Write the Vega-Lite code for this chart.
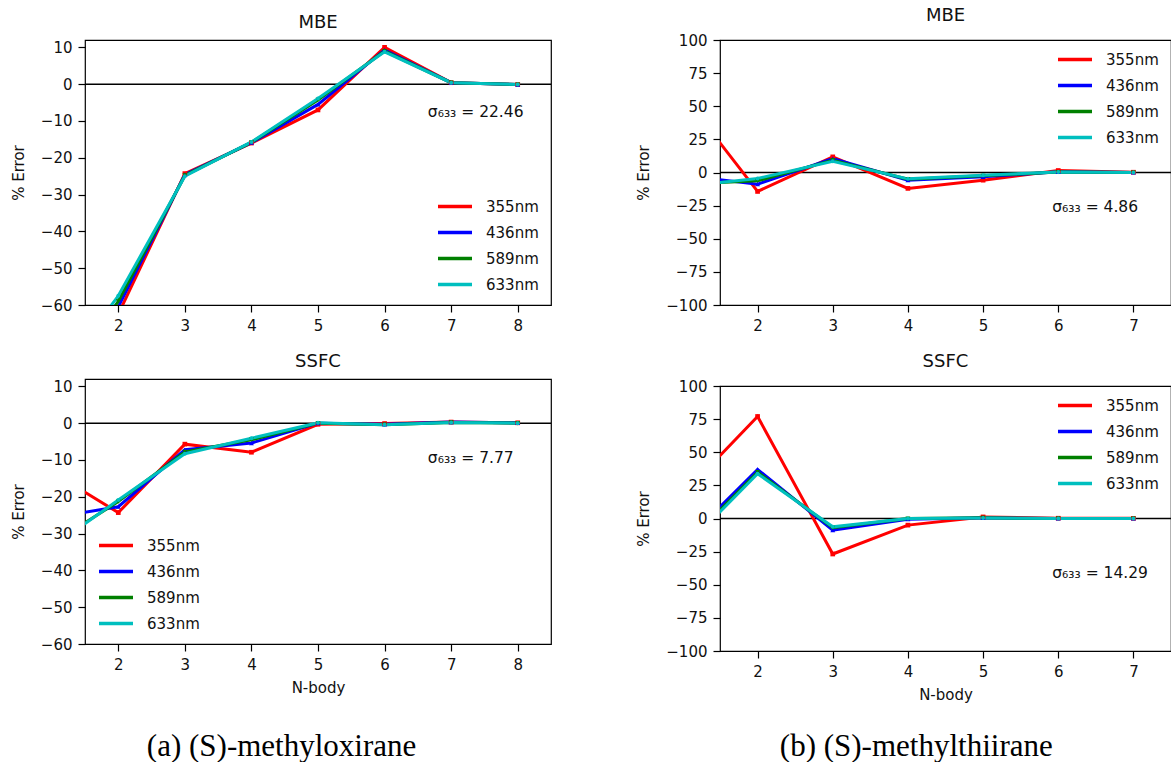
{
  "$schema": "https://vega.github.io/schema/vega-lite/v6.json",
  "padding": {"top": 6, "left": 10, "right": 0, "bottom": 0},
  "background": "white",
  "config": {
    "font": "DejaVu Sans",
    "view": {"stroke": "black", "strokeWidth": 1.2},
    "axis": {"domain": false, "grid": false, "ticks": true, "tickColor": "black", "tickSize": 7, "tickWidth": 1.2, "labelFont": "DejaVu Sans", "labelFontSize": 15, "labelColor": "#111", "labelPadding": 6, "labelOverlap": false, "labelFlush": false, "titleFont": "DejaVu Sans", "titleFontSize": 15, "titleFontWeight": "normal", "titleColor": "#111", "titlePadding": 14},
    "title": {"font": "DejaVu Sans", "fontSize": 18, "fontWeight": "normal", "color": "#111", "offset": 8},
    "legend": {"labelFont": "DejaVu Sans", "labelFontSize": 15, "labelColor": "#111", "symbolType": "stroke", "symbolSize": 1156, "symbolStrokeWidth": 3.5, "labelOffset": 12, "rowPadding": 10, "clipHeight": 15, "padding": 2, "offset": 10}
  },
  "datasets": {
    "oxMBE": [
      {"n": 1, "wl": "355nm", "err": -95}, {"n": 2, "wl": "355nm", "err": -62.5}, {"n": 3, "wl": "355nm", "err": -24.3}, {"n": 4, "wl": "355nm", "err": -16.0}, {"n": 5, "wl": "355nm", "err": -7.0}, {"n": 6, "wl": "355nm", "err": 10.0}, {"n": 7, "wl": "355nm", "err": 0.4}, {"n": 8, "wl": "355nm", "err": -0.1},
      {"n": 1, "wl": "436nm", "err": -90}, {"n": 2, "wl": "436nm", "err": -60.5}, {"n": 3, "wl": "436nm", "err": -24.6}, {"n": 4, "wl": "436nm", "err": -15.9}, {"n": 5, "wl": "436nm", "err": -5.5}, {"n": 6, "wl": "436nm", "err": 9.3}, {"n": 7, "wl": "436nm", "err": 0.4}, {"n": 8, "wl": "436nm", "err": -0.1},
      {"n": 1, "wl": "589nm", "err": -85}, {"n": 2, "wl": "589nm", "err": -59.0}, {"n": 3, "wl": "589nm", "err": -24.8}, {"n": 4, "wl": "589nm", "err": -15.8}, {"n": 5, "wl": "589nm", "err": -4.3}, {"n": 6, "wl": "589nm", "err": 9.0}, {"n": 7, "wl": "589nm", "err": 0.4}, {"n": 8, "wl": "589nm", "err": -0.1},
      {"n": 1, "wl": "633nm", "err": -82}, {"n": 2, "wl": "633nm", "err": -57.5}, {"n": 3, "wl": "633nm", "err": -25.0}, {"n": 4, "wl": "633nm", "err": -15.7}, {"n": 5, "wl": "633nm", "err": -3.9}, {"n": 6, "wl": "633nm", "err": 8.8}, {"n": 7, "wl": "633nm", "err": 0.4}, {"n": 8, "wl": "633nm", "err": -0.1}
    ],
    "oxSSFC": [
      {"n": 1, "wl": "355nm", "err": -13.3}, {"n": 2, "wl": "355nm", "err": -24.3}, {"n": 3, "wl": "355nm", "err": -5.7}, {"n": 4, "wl": "355nm", "err": -7.9}, {"n": 5, "wl": "355nm", "err": -0.3}, {"n": 6, "wl": "355nm", "err": -0.1}, {"n": 7, "wl": "355nm", "err": 0.3}, {"n": 8, "wl": "355nm", "err": 0.1},
      {"n": 1, "wl": "436nm", "err": -25.7}, {"n": 2, "wl": "436nm", "err": -22.7}, {"n": 3, "wl": "436nm", "err": -7.2}, {"n": 4, "wl": "436nm", "err": -5.4}, {"n": 5, "wl": "436nm", "err": 0.0}, {"n": 6, "wl": "436nm", "err": -0.3}, {"n": 7, "wl": "436nm", "err": 0.3}, {"n": 8, "wl": "436nm", "err": 0.1},
      {"n": 1, "wl": "589nm", "err": -32.8}, {"n": 2, "wl": "589nm", "err": -21.3}, {"n": 3, "wl": "589nm", "err": -7.8}, {"n": 4, "wl": "589nm", "err": -4.5}, {"n": 5, "wl": "589nm", "err": 0.0}, {"n": 6, "wl": "589nm", "err": -0.4}, {"n": 7, "wl": "589nm", "err": 0.2}, {"n": 8, "wl": "589nm", "err": 0.0},
      {"n": 1, "wl": "633nm", "err": -33.7}, {"n": 2, "wl": "633nm", "err": -20.9}, {"n": 3, "wl": "633nm", "err": -8.3}, {"n": 4, "wl": "633nm", "err": -4.1}, {"n": 5, "wl": "633nm", "err": 0.1}, {"n": 6, "wl": "633nm", "err": -0.4}, {"n": 7, "wl": "633nm", "err": 0.2}, {"n": 8, "wl": "633nm", "err": 0.0}
    ],
    "thMBE": [
      {"n": 1, "wl": "355nm", "err": 59}, {"n": 2, "wl": "355nm", "err": -14.3}, {"n": 3, "wl": "355nm", "err": 11.8}, {"n": 4, "wl": "355nm", "err": -12.0}, {"n": 5, "wl": "355nm", "err": -5.8}, {"n": 6, "wl": "355nm", "err": 1.5}, {"n": 7, "wl": "355nm", "err": 0.2},
      {"n": 1, "wl": "436nm", "err": -2.2}, {"n": 2, "wl": "436nm", "err": -8.8}, {"n": 3, "wl": "436nm", "err": 10.5}, {"n": 4, "wl": "436nm", "err": -5.8}, {"n": 5, "wl": "436nm", "err": -3.3}, {"n": 6, "wl": "436nm", "err": 0.5}, {"n": 7, "wl": "436nm", "err": 0.0},
      {"n": 1, "wl": "589nm", "err": -8.7}, {"n": 2, "wl": "589nm", "err": -6.3}, {"n": 3, "wl": "589nm", "err": 9.3}, {"n": 4, "wl": "589nm", "err": -5.0}, {"n": 5, "wl": "589nm", "err": -2.5}, {"n": 6, "wl": "589nm", "err": 0.3}, {"n": 7, "wl": "589nm", "err": 0.0},
      {"n": 1, "wl": "633nm", "err": -10.5}, {"n": 2, "wl": "633nm", "err": -4.5}, {"n": 3, "wl": "633nm", "err": 8.5}, {"n": 4, "wl": "633nm", "err": -4.8}, {"n": 5, "wl": "633nm", "err": -2.0}, {"n": 6, "wl": "633nm", "err": 0.3}, {"n": 7, "wl": "633nm", "err": 0.0}
    ],
    "thSSFC": [
      {"n": 1, "wl": "355nm", "err": 18}, {"n": 2, "wl": "355nm", "err": 77}, {"n": 3, "wl": "355nm", "err": -26.8}, {"n": 4, "wl": "355nm", "err": -5.0}, {"n": 5, "wl": "355nm", "err": 1.2}, {"n": 6, "wl": "355nm", "err": 0.2}, {"n": 7, "wl": "355nm", "err": 0.1},
      {"n": 1, "wl": "436nm", "err": -19.5}, {"n": 2, "wl": "436nm", "err": 37}, {"n": 3, "wl": "436nm", "err": -8.8}, {"n": 4, "wl": "436nm", "err": -0.5}, {"n": 5, "wl": "436nm", "err": 0.5}, {"n": 6, "wl": "436nm", "err": 0.0}, {"n": 7, "wl": "436nm", "err": 0.0},
      {"n": 1, "wl": "589nm", "err": -22.5}, {"n": 2, "wl": "589nm", "err": 35}, {"n": 3, "wl": "589nm", "err": -7.0}, {"n": 4, "wl": "589nm", "err": 0.0}, {"n": 5, "wl": "589nm", "err": 0.5}, {"n": 6, "wl": "589nm", "err": 0.0}, {"n": 7, "wl": "589nm", "err": 0.0},
      {"n": 1, "wl": "633nm", "err": -23.8}, {"n": 2, "wl": "633nm", "err": 33.8}, {"n": 3, "wl": "633nm", "err": -6.3}, {"n": 4, "wl": "633nm", "err": 0.0}, {"n": 5, "wl": "633nm", "err": 0.4}, {"n": 6, "wl": "633nm", "err": 0.0}, {"n": 7, "wl": "633nm", "err": 0.0}
    ]
  },
  "spacing": 83,
  "resolve": {"scale": {"color": "independent", "x": "independent", "y": "independent"}, "legend": {"color": "independent"}},
  "hconcat": [
    {
      "title": {"text": "(a) (S)-methyloxirane", "orient": "bottom", "anchor": "middle", "frame": "bounds", "font": "Liberation Serif", "fontSize": 31, "fontWeight": "normal", "color": "black", "offset": 36},
      "spacing": 18,
      "resolve": {"scale": {"color": "independent", "x": "independent", "y": "independent"}, "legend": {"color": "independent"}},
      "vconcat": [
        {
          "width": 466, "height": 265,
          "title": "MBE",
          "data": {"name": "oxMBE"},
          "layer": [
            {"data": {"values": [{}]}, "mark": {"type": "rule", "color": "black", "strokeWidth": 1.5}, "encoding": {"y": {"datum": 0, "type": "quantitative", "title": "% Error", "axis": {"values": [-60, -50, -40, -30, -20, -10, 0, 10], "format": "d"}}}},
            {"mark": {"type": "line", "strokeWidth": 3, "clip": true},
             "encoding": {
               "x": {"field": "n", "type": "quantitative", "title": null, "scale": {"domain": [1.5, 8.5], "nice": false, "zero": false}, "axis": {"values": [2, 3, 4, 5, 6, 7, 8], "format": "d"}},
               "y": {"field": "err", "type": "quantitative", "title": "% Error", "scale": {"domain": [-60, 12], "nice": false, "zero": false}, "axis": {"values": [-60, -50, -40, -30, -20, -10, 0, 10], "format": "d"}},
               "color": {"field": "wl", "type": "nominal", "scale": {"domain": ["355nm", "436nm", "589nm", "633nm"], "range": ["#ff0000", "#0000ff", "#008000", "#00bfbf"]}, "legend": {"title": null, "orient": "bottom-right"}}}},
            {"transform": [{"filter": "datum.wl === '355nm'"}], "mark": {"type": "point", "shape": "square", "filled": true, "size": 22, "clip": true, "opacity": 1, "color": "#ff0000"}, "encoding": {"x": {"field": "n", "type": "quantitative", "title": null, "axis": {"values": [2, 3, 4, 5, 6, 7, 8], "format": "d"}}, "y": {"field": "err", "type": "quantitative", "title": "% Error", "axis": {"values": [-60, -50, -40, -30, -20, -10, 0, 10], "format": "d"}}}},
            {"transform": [{"filter": "datum.wl === '436nm'"}], "mark": {"type": "point", "shape": "triangle-up", "filled": true, "size": 24, "clip": true, "opacity": 1, "color": "#0000ff"}, "encoding": {"x": {"field": "n", "type": "quantitative", "title": null, "axis": {"values": [2, 3, 4, 5, 6, 7, 8], "format": "d"}}, "y": {"field": "err", "type": "quantitative", "title": "% Error", "axis": {"values": [-60, -50, -40, -30, -20, -10, 0, 10], "format": "d"}}}},
            {"transform": [{"filter": "datum.wl === '589nm'"}], "mark": {"type": "point", "shape": "triangle-down", "filled": true, "size": 24, "clip": true, "opacity": 1, "color": "#008000"}, "encoding": {"x": {"field": "n", "type": "quantitative", "title": null, "axis": {"values": [2, 3, 4, 5, 6, 7, 8], "format": "d"}}, "y": {"field": "err", "type": "quantitative", "title": "% Error", "axis": {"values": [-60, -50, -40, -30, -20, -10, 0, 10], "format": "d"}}}},
            {"transform": [{"filter": "datum.wl === '633nm'"}], "mark": {"type": "point", "shape": "circle", "filled": true, "size": 16, "clip": true, "opacity": 1, "color": "#00bfbf"}, "encoding": {"x": {"field": "n", "type": "quantitative", "title": null, "axis": {"values": [2, 3, 4, 5, 6, 7, 8], "format": "d"}}, "y": {"field": "err", "type": "quantitative", "title": "% Error", "axis": {"values": [-60, -50, -40, -30, -20, -10, 0, 10], "format": "d"}}}},
            {"data": {"values": [{}]}, "mark": {"type": "text", "align": "left", "baseline": "middle", "fontSize": 15.5, "font": "DejaVu Sans", "color": "#111"},
             "encoding": {"x": {"datum": 6.65, "type": "quantitative", "title": null, "axis": {"values": [2, 3, 4, 5, 6, 7, 8], "format": "d"}}, "y": {"datum": -7.6, "type": "quantitative", "title": "% Error", "axis": {"values": [-60, -50, -40, -30, -20, -10, 0, 10], "format": "d"}}, "text": {"value": "σ₆₃₃ = 22.46"}}}
          ]
        },
        {
          "width": 466, "height": 265,
          "title": "SSFC",
          "data": {"name": "oxSSFC"},
          "layer": [
            {"data": {"values": [{}]}, "mark": {"type": "rule", "color": "black", "strokeWidth": 1.5}, "encoding": {"y": {"datum": 0, "type": "quantitative", "title": "% Error", "axis": {"values": [-60, -50, -40, -30, -20, -10, 0, 10], "format": "d"}}}},
            {"mark": {"type": "line", "strokeWidth": 3, "clip": true},
             "encoding": {
               "x": {"field": "n", "type": "quantitative", "title": "N-body", "scale": {"domain": [1.5, 8.5], "nice": false, "zero": false}, "axis": {"values": [2, 3, 4, 5, 6, 7, 8], "format": "d", "titlePadding": 8}},
               "y": {"field": "err", "type": "quantitative", "title": "% Error", "scale": {"domain": [-60, 12], "nice": false, "zero": false}, "axis": {"values": [-60, -50, -40, -30, -20, -10, 0, 10], "format": "d"}},
               "color": {"field": "wl", "type": "nominal", "scale": {"domain": ["355nm", "436nm", "589nm", "633nm"], "range": ["#ff0000", "#0000ff", "#008000", "#00bfbf"]}, "legend": {"title": null, "orient": "bottom-left"}}}},
            {"transform": [{"filter": "datum.wl === '355nm'"}], "mark": {"type": "point", "shape": "square", "filled": true, "size": 22, "clip": true, "opacity": 1, "color": "#ff0000"}, "encoding": {"x": {"field": "n", "type": "quantitative", "title": "N-body", "axis": {"values": [2, 3, 4, 5, 6, 7, 8], "format": "d", "titlePadding": 8}}, "y": {"field": "err", "type": "quantitative", "title": "% Error", "axis": {"values": [-60, -50, -40, -30, -20, -10, 0, 10], "format": "d"}}}},
            {"transform": [{"filter": "datum.wl === '436nm'"}], "mark": {"type": "point", "shape": "triangle-up", "filled": true, "size": 24, "clip": true, "opacity": 1, "color": "#0000ff"}, "encoding": {"x": {"field": "n", "type": "quantitative", "title": "N-body", "axis": {"values": [2, 3, 4, 5, 6, 7, 8], "format": "d", "titlePadding": 8}}, "y": {"field": "err", "type": "quantitative", "title": "% Error", "axis": {"values": [-60, -50, -40, -30, -20, -10, 0, 10], "format": "d"}}}},
            {"transform": [{"filter": "datum.wl === '589nm'"}], "mark": {"type": "point", "shape": "triangle-down", "filled": true, "size": 24, "clip": true, "opacity": 1, "color": "#008000"}, "encoding": {"x": {"field": "n", "type": "quantitative", "title": "N-body", "axis": {"values": [2, 3, 4, 5, 6, 7, 8], "format": "d", "titlePadding": 8}}, "y": {"field": "err", "type": "quantitative", "title": "% Error", "axis": {"values": [-60, -50, -40, -30, -20, -10, 0, 10], "format": "d"}}}},
            {"transform": [{"filter": "datum.wl === '633nm'"}], "mark": {"type": "point", "shape": "circle", "filled": true, "size": 16, "clip": true, "opacity": 1, "color": "#00bfbf"}, "encoding": {"x": {"field": "n", "type": "quantitative", "title": "N-body", "axis": {"values": [2, 3, 4, 5, 6, 7, 8], "format": "d", "titlePadding": 8}}, "y": {"field": "err", "type": "quantitative", "title": "% Error", "axis": {"values": [-60, -50, -40, -30, -20, -10, 0, 10], "format": "d"}}}},
            {"data": {"values": [{}]}, "mark": {"type": "text", "align": "left", "baseline": "middle", "fontSize": 15.5, "font": "DejaVu Sans", "color": "#111"},
             "encoding": {"x": {"datum": 6.65, "type": "quantitative", "title": "N-body", "axis": {"values": [2, 3, 4, 5, 6, 7, 8], "format": "d", "titlePadding": 8}}, "y": {"datum": -9.5, "type": "quantitative", "title": "% Error", "axis": {"values": [-60, -50, -40, -30, -20, -10, 0, 10], "format": "d"}}, "text": {"value": "σ₆₃₃ = 7.77"}}}
          ]
        }
      ]
    },
    {
      "title": {"text": "(b) (S)-methylthiirane", "orient": "bottom", "anchor": "middle", "frame": "bounds", "font": "Liberation Serif", "fontSize": 31, "fontWeight": "normal", "color": "black", "offset": 36, "dx": 12, "dy": -7},
      "spacing": 18,
      "resolve": {"scale": {"color": "independent", "x": "independent", "y": "independent"}, "legend": {"color": "independent"}},
      "vconcat": [
        {
          "width": 451, "height": 265,
          "title": "MBE",
          "data": {"name": "thMBE"},
          "layer": [
            {"data": {"values": [{}]}, "mark": {"type": "rule", "color": "black", "strokeWidth": 1.5}, "encoding": {"y": {"datum": 0, "type": "quantitative", "title": "% Error", "axis": {"values": [-100, -75, -50, -25, 0, 25, 50, 75, 100], "format": "d"}}}},
            {"mark": {"type": "line", "strokeWidth": 3, "clip": true},
             "encoding": {
               "x": {"field": "n", "type": "quantitative", "title": null, "scale": {"domain": [1.5, 7.5], "nice": false, "zero": false}, "axis": {"values": [2, 3, 4, 5, 6, 7], "format": "d"}},
               "y": {"field": "err", "type": "quantitative", "title": "% Error", "scale": {"domain": [-100, 100], "nice": false, "zero": false}, "axis": {"values": [-100, -75, -50, -25, 0, 25, 50, 75, 100], "format": "d"}},
               "color": {"field": "wl", "type": "nominal", "scale": {"domain": ["355nm", "436nm", "589nm", "633nm"], "range": ["#ff0000", "#0000ff", "#008000", "#00bfbf"]}, "legend": {"title": null, "orient": "top-right"}}}},
            {"transform": [{"filter": "datum.wl === '355nm'"}], "mark": {"type": "point", "shape": "square", "filled": true, "size": 22, "clip": true, "opacity": 1, "color": "#ff0000"}, "encoding": {"x": {"field": "n", "type": "quantitative", "title": null, "axis": {"values": [2, 3, 4, 5, 6, 7], "format": "d"}}, "y": {"field": "err", "type": "quantitative", "title": "% Error", "axis": {"values": [-100, -75, -50, -25, 0, 25, 50, 75, 100], "format": "d"}}}},
            {"transform": [{"filter": "datum.wl === '436nm'"}], "mark": {"type": "point", "shape": "triangle-up", "filled": true, "size": 24, "clip": true, "opacity": 1, "color": "#0000ff"}, "encoding": {"x": {"field": "n", "type": "quantitative", "title": null, "axis": {"values": [2, 3, 4, 5, 6, 7], "format": "d"}}, "y": {"field": "err", "type": "quantitative", "title": "% Error", "axis": {"values": [-100, -75, -50, -25, 0, 25, 50, 75, 100], "format": "d"}}}},
            {"transform": [{"filter": "datum.wl === '589nm'"}], "mark": {"type": "point", "shape": "triangle-down", "filled": true, "size": 24, "clip": true, "opacity": 1, "color": "#008000"}, "encoding": {"x": {"field": "n", "type": "quantitative", "title": null, "axis": {"values": [2, 3, 4, 5, 6, 7], "format": "d"}}, "y": {"field": "err", "type": "quantitative", "title": "% Error", "axis": {"values": [-100, -75, -50, -25, 0, 25, 50, 75, 100], "format": "d"}}}},
            {"transform": [{"filter": "datum.wl === '633nm'"}], "mark": {"type": "point", "shape": "circle", "filled": true, "size": 16, "clip": true, "opacity": 1, "color": "#00bfbf"}, "encoding": {"x": {"field": "n", "type": "quantitative", "title": null, "axis": {"values": [2, 3, 4, 5, 6, 7], "format": "d"}}, "y": {"field": "err", "type": "quantitative", "title": "% Error", "axis": {"values": [-100, -75, -50, -25, 0, 25, 50, 75, 100], "format": "d"}}}},
            {"data": {"values": [{}]}, "mark": {"type": "text", "align": "left", "baseline": "middle", "fontSize": 15.5, "font": "DejaVu Sans", "color": "#111"},
             "encoding": {"x": {"datum": 5.92, "type": "quantitative", "title": null, "axis": {"values": [2, 3, 4, 5, 6, 7], "format": "d"}}, "y": {"datum": -25.8, "type": "quantitative", "title": "% Error", "axis": {"values": [-100, -75, -50, -25, 0, 25, 50, 75, 100], "format": "d"}}, "text": {"value": "σ₆₃₃ = 4.86"}}}
          ]
        },
        {
          "width": 451, "height": 265,
          "title": "SSFC",
          "data": {"name": "thSSFC"},
          "layer": [
            {"data": {"values": [{}]}, "mark": {"type": "rule", "color": "black", "strokeWidth": 1.5}, "encoding": {"y": {"datum": 0, "type": "quantitative", "title": "% Error", "axis": {"values": [-100, -75, -50, -25, 0, 25, 50, 75, 100], "format": "d"}}}},
            {"mark": {"type": "line", "strokeWidth": 3, "clip": true},
             "encoding": {
               "x": {"field": "n", "type": "quantitative", "title": "N-body", "scale": {"domain": [1.5, 7.5], "nice": false, "zero": false}, "axis": {"values": [2, 3, 4, 5, 6, 7], "format": "d", "titlePadding": 8}},
               "y": {"field": "err", "type": "quantitative", "title": "% Error", "scale": {"domain": [-100, 100], "nice": false, "zero": false}, "axis": {"values": [-100, -75, -50, -25, 0, 25, 50, 75, 100], "format": "d"}},
               "color": {"field": "wl", "type": "nominal", "scale": {"domain": ["355nm", "436nm", "589nm", "633nm"], "range": ["#ff0000", "#0000ff", "#008000", "#00bfbf"]}, "legend": {"title": null, "orient": "top-right"}}}},
            {"transform": [{"filter": "datum.wl === '355nm'"}], "mark": {"type": "point", "shape": "square", "filled": true, "size": 22, "clip": true, "opacity": 1, "color": "#ff0000"}, "encoding": {"x": {"field": "n", "type": "quantitative", "title": "N-body", "axis": {"values": [2, 3, 4, 5, 6, 7], "format": "d", "titlePadding": 8}}, "y": {"field": "err", "type": "quantitative", "title": "% Error", "axis": {"values": [-100, -75, -50, -25, 0, 25, 50, 75, 100], "format": "d"}}}},
            {"transform": [{"filter": "datum.wl === '436nm'"}], "mark": {"type": "point", "shape": "triangle-up", "filled": true, "size": 24, "clip": true, "opacity": 1, "color": "#0000ff"}, "encoding": {"x": {"field": "n", "type": "quantitative", "title": "N-body", "axis": {"values": [2, 3, 4, 5, 6, 7], "format": "d", "titlePadding": 8}}, "y": {"field": "err", "type": "quantitative", "title": "% Error", "axis": {"values": [-100, -75, -50, -25, 0, 25, 50, 75, 100], "format": "d"}}}},
            {"transform": [{"filter": "datum.wl === '589nm'"}], "mark": {"type": "point", "shape": "triangle-down", "filled": true, "size": 24, "clip": true, "opacity": 1, "color": "#008000"}, "encoding": {"x": {"field": "n", "type": "quantitative", "title": "N-body", "axis": {"values": [2, 3, 4, 5, 6, 7], "format": "d", "titlePadding": 8}}, "y": {"field": "err", "type": "quantitative", "title": "% Error", "axis": {"values": [-100, -75, -50, -25, 0, 25, 50, 75, 100], "format": "d"}}}},
            {"transform": [{"filter": "datum.wl === '633nm'"}], "mark": {"type": "point", "shape": "circle", "filled": true, "size": 16, "clip": true, "opacity": 1, "color": "#00bfbf"}, "encoding": {"x": {"field": "n", "type": "quantitative", "title": "N-body", "axis": {"values": [2, 3, 4, 5, 6, 7], "format": "d", "titlePadding": 8}}, "y": {"field": "err", "type": "quantitative", "title": "% Error", "axis": {"values": [-100, -75, -50, -25, 0, 25, 50, 75, 100], "format": "d"}}}},
            {"data": {"values": [{}]}, "mark": {"type": "text", "align": "left", "baseline": "middle", "fontSize": 15.5, "font": "DejaVu Sans", "color": "#111"},
             "encoding": {"x": {"datum": 5.92, "type": "quantitative", "title": "N-body", "axis": {"values": [2, 3, 4, 5, 6, 7], "format": "d", "titlePadding": 8}}, "y": {"datum": -41.3, "type": "quantitative", "title": "% Error", "axis": {"values": [-100, -75, -50, -25, 0, 25, 50, 75, 100], "format": "d"}}, "text": {"value": "σ₆₃₃ = 14.29"}}}
          ]
        }
      ]
    }
  ]
}
